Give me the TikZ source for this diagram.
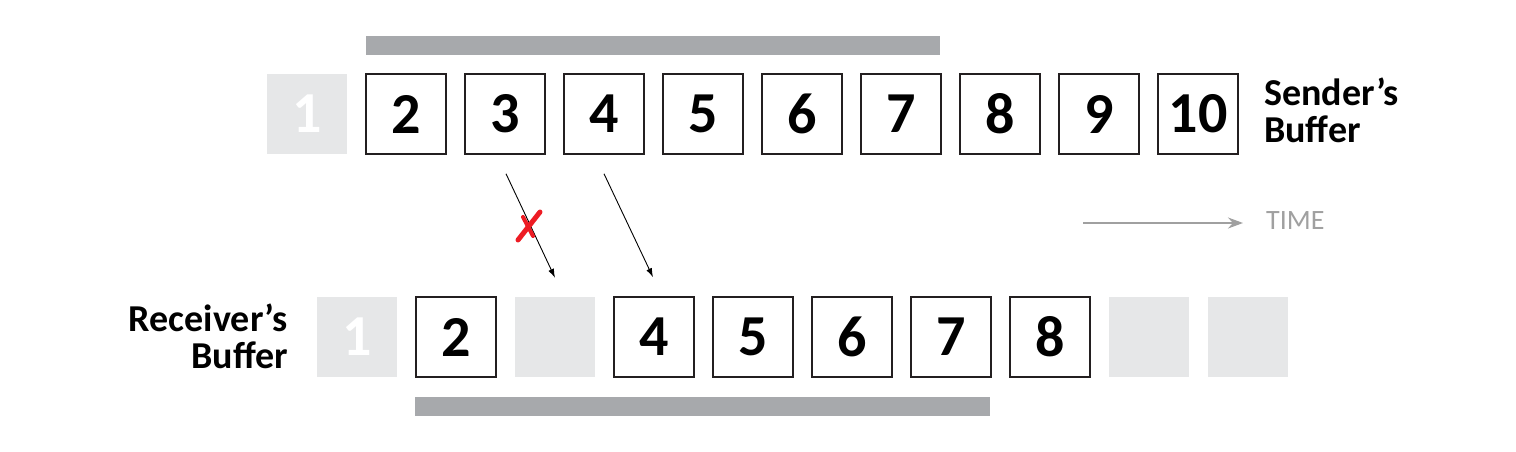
\documentclass[tikz,border=0pt]{standalone}
\usepackage{fontspec}
\setmainfont{Carlito}
\usetikzlibrary{arrows.meta,calc}
\definecolor{boxgray}{RGB}{230,231,232}
\definecolor{bargray}{RGB}{167,169,172}
\definecolor{timegray}{RGB}{160,160,160}
\definecolor{xred}{RGB}{237,28,36}
\definecolor{edge}{RGB}{35,31,32}
\begin{document}
\begin{tikzpicture}[x=1pt,y=-1pt,
  pkt/.style={draw=edge, line width=1.5pt, minimum size=80pt, inner sep=0pt,
    font=\fontsize{58}{58}\selectfont\bfseries},
  gpkt/.style={fill=boxgray, minimum size=80pt, inner sep=0pt, text=white,
    font=\fontsize{58}{58}\selectfont\bfseries},
  bar/.style={fill=bargray, minimum height=19pt, inner sep=0pt, anchor=north west},
  lbl/.style={inner sep=0pt, font=\fontsize{38}{37}\selectfont\bfseries},
  sendarr/.style={line width=0.9pt, -{Latex[length=9pt,width=6pt]}},
  timearr/.style={draw=timegray, line width=1.5pt, -{Stealth[length=15pt,width=11pt]}},
  timelbl/.style={inner sep=0pt, text=timegray, font=\fontsize{28}{28}\selectfont},
  xmark/.style={draw=xred, line width=5pt, line cap=round}
]
\useasboundingbox (0,0) rectangle (1516,452);
% sender's buffer
\node[gpkt] (s1) at (307,114) {1};
\foreach \i in {2,...,10}{
  \node[pkt] (s\i) at ({307+99*(\i-1)},114) {\i};
}
\node[bar, minimum width=574pt] (topbar) at (366,36) {};
\node[lbl, align=left, anchor=west] (slbl) at (1264,110) {Sender’s\\Buffer};
% receiver's buffer
\node[gpkt] (r1) at (357,337) {1};
\node[pkt] (r2) at (456,337) {2};
\node[gpkt] (r3) at (555,337) {};
\foreach \i in {4,...,8}{
  \node[pkt] (r\i) at ({357+99*(\i-1)},337) {\i};
}
\node[gpkt] (r9) at (1149,337) {};
\node[gpkt] (r10) at (1248,337) {};
\node[bar, minimum width=575pt] (botbar) at (415,397) {};
\node[lbl, align=right, anchor=east] (rlbl) at (288,336) {Receiver’s\\Buffer};
% transmissions
\draw[sendarr] ($(s3.south)+(1,19)$) -- ($(r3.north)+(0,-19)$);
\draw[sendarr] ($(s4.south)+(0,19)$) -- ($(r4.north)+(-1,-19)$);
% lost packet mark
\draw[xmark] (518,240) -- (540,212);
\draw[xmark, line width=4pt] (523,217) -- (533,236);
% time
\coordinate (t0) at (1083,223);
\coordinate (t1) at (1243,223);
\node[timelbl, anchor=west] (time) at (1266,221) {TIME};
\draw[timearr] (t0) -- (t1);
\end{tikzpicture}
\end{document}
